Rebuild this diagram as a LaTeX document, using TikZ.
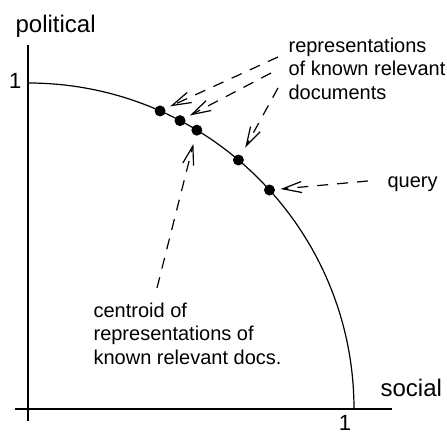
\documentclass[tikz,border=0pt]{standalone}
\usepackage{fontspec}
\setmainfont{Liberation Sans}
\usetikzlibrary{arrows.meta,calc}

\begin{document}
\begin{tikzpicture}[
  x=0.5pt,y=0.5pt,
  line width=0.6pt,
  rotulo/.style={inner sep=0pt,font=\fontsize{12pt}{14pt}\selectfont},
  numero/.style={inner sep=0pt,font=\fontsize{11pt}{13pt}\selectfont},
  nota/.style={inner sep=0pt,align=left,font=\fontsize{10pt}{11.75pt}\selectfont},
  ponto/.style={circle,fill,inner sep=0pt,minimum size=5.5pt},
  seta/.style={dash pattern=on 5.5pt off 4.5pt,
               -{Straight Barb[length=9.5pt,width=5.5pt]},shorten >=2.5pt}
]
  \useasboundingbox (0,0) rectangle (447,434);
  % eixos e quarto de circulo
  \coordinate (o) at (28,25);
  \coordinate (ytop) at (28,389);
  \coordinate (ybot) at (28,13);
  \coordinate (xleft) at (15,25);
  \coordinate (xright) at (392,25);
  \draw (ybot) -- (ytop);
  \draw (xleft) -- (xright);
  \draw ($(o)+(0,326)$) arc[start angle=90,end angle=0,radius=326];
  \node[rotulo,anchor=base west] (pol) at (15,401) {political};
  \node[rotulo,anchor=base west] (soc) at (380,37) {social};
  \node[numero,anchor=east] (umy) at (22,353) {1};
  \node[numero,anchor=north] (umx) at (345,19) {1};
  % documentos e consulta
  \node[ponto] (d1) at ($(o)+(66.1:326)$) {};
  \node[ponto] (d2) at ($(o)+(62.2:326)$) {};
  \node[ponto] (cen) at ($(o)+(58.8:326)$) {};
  \node[ponto] (d3) at ($(o)+(49.8:326)$) {};
  \node[ponto] (qry) at ($(o)+(42.2:326)$) {};
  % textos
  \node[nota,anchor=north west] (reps) at (288,397)
    {representations\\of known relevant\\documents};
  \node[nota,anchor=base west] (qtxt) at (387,246) {query};
  \node[nota,anchor=north west] (ctxt) at (93,132)
    {centroid of\\representations of\\known relevant docs.};
  % setas
  \coordinate (s1) at (278,377);
  \coordinate (s2) at (271,361);
  \coordinate (s3) at (278,346);
  \coordinate (sq) at (368,253);
  \coordinate (sc) at (157,146);
  \draw[seta] (s1) -- (d1);
  \draw[seta] (s2) -- (d2);
  \draw[seta,shorten >=4pt] (s3) -- (d3);
  \draw[seta] (sq) -- (qry);
  \draw[seta,shorten >=4pt] (sc) -- (cen);
\end{tikzpicture}
\end{document}
